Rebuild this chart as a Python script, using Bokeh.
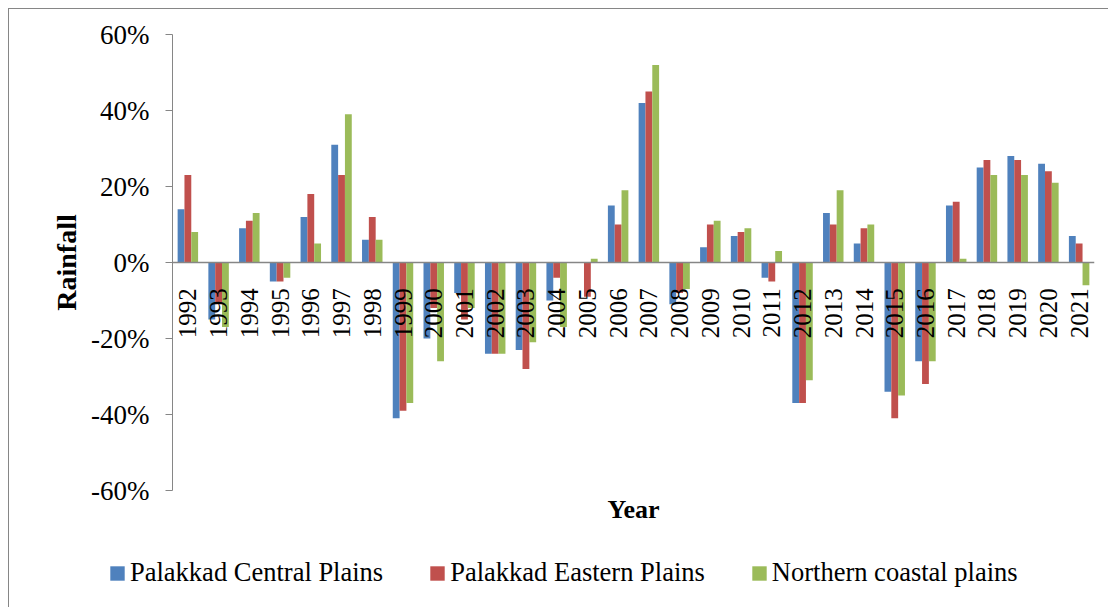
from math import pi

from bokeh.core.properties import value
from bokeh.embed import file_html
from bokeh.layouts import column
from bokeh.models import (ColumnDataSource, FixedTicker, Legend, LegendItem,
                          LinearAxis, NumeralTickFormatter, Range1d, Span)
from bokeh.plotting import figure
from bokeh.resources import INLINE
from bokeh.transform import dodge

# Rainfall departure (%) per year for three agro-ecological units
years = [str(y) for y in range(1992, 2022)]
central = [14, -15, 9, -5, 12, 31, 6, -41, -20, -8, -24, -23, -10, 0, 15,
           42, -11, 4, 7, -4, -37, 13, 5, -34, -26, 15, 25, 28, 26, 7]
eastern = [23, -11, 11, -5, 18, 23, 12, -39, -12, -15, -24, -28, -4, -9, 10,
           45, -8, 10, 8, -5, -37, 10, 9, -41, -32, 16, 27, 27, 24, 5]
northern = [8, -17, 13, -4, 5, 39, 6, -37, -26, -12, -24, -21, -17, 1, 19,
            52, -7, 11, 9, 3, -31, 19, 10, -35, -26, 1, 23, 23, 21, -6]
series_names = ["Palakkad Central Plains", "Palakkad Eastern Plains",
                "Northern coastal plains"]
colors = ["#4F81BD", "#C0504D", "#9BBB59"]
y_ticks = [-0.6, -0.4, -0.2, 0.0, 0.2, 0.4, 0.6]

FONT = "Liberation Serif"
GRAY = "#868686"

n = len(years)
bar_w = 0.222

src = ColumnDataSource(dict(
    year=years, xc=[i + 0.5 for i in range(n)],
    central=[v / 100 for v in central],
    eastern=[v / 100 for v in eastern],
    northern=[v / 100 for v in northern],
))
cols = ["central", "eastern", "northern"]

# ---- main chart -------------------------------------------------------
p = figure(width=1099, height=531, output_backend="svg", toolbar_location=None,
           x_range=Range1d(0, n), y_range=Range1d(-0.6, 0.6),
           x_axis_type=None, min_border_left=163, min_border_right=14,
           min_border_top=25, min_border_bottom=50)
p.frame_align = False
p.outline_line_color = None
p.grid.visible = False
p.background_fill_color = "white"
p.border_fill_color = "white"

renderers = []
for k, (col, c) in enumerate(zip(cols, colors)):
    r = p.vbar(x=dodge("xc", (k - 1) * bar_w), top=col, bottom=0, width=bar_w,
               source=src, fill_color=c, line_color=None)
    renderers.append(r)

p.add_layout(Span(location=0, dimension="width", line_color=GRAY, line_width=1.5))

# year labels just under the zero line, reading upwards
p.text(x="xc", y=-0.068, text="year", source=src, angle=pi / 2,
       text_align="right", text_baseline="middle",
       text_font=value(FONT), text_font_size="25px", text_color="black")

ax = p.yaxis[0]
ax.ticker = FixedTicker(ticks=y_ticks)
ax.formatter = NumeralTickFormatter(format="0%")
ax.axis_line_color = GRAY
ax.major_tick_line_color = GRAY
ax.major_tick_out = 7
ax.major_tick_in = 0
ax.minor_tick_line_color = None
ax.major_label_text_font = FONT
ax.major_label_text_font_size = "27px"
ax.major_label_text_color = "black"
ax.major_label_standoff = 16
ax.axis_label = "Rainfall"
ax.axis_label_text_font = FONT
ax.axis_label_text_font_size = "28px"
ax.axis_label_text_font_style = "bold"
ax.axis_label_text_color = "black"
ax.axis_label_standoff = 6

# bottom axis carries only the "Year" caption
xa = LinearAxis(ticker=FixedTicker(ticks=[]), axis_line_color=None,
                major_tick_line_color=None, minor_tick_line_color=None,
                major_tick_out=0, major_tick_in=0, major_label_standoff=0,
                axis_label="Year", axis_label_standoff=4,
                axis_label_text_font=FONT, axis_label_text_font_size="26px",
                axis_label_text_font_style="bold", axis_label_text_color="black")
p.add_layout(xa, "below")

# ---- legend strip -----------------------------------------------------
lg = figure(width=1099, height=67, output_backend="svg", toolbar_location=None,
            x_range=Range1d(0, 1), y_range=Range1d(0, 1),
            x_axis_type=None, y_axis_type=None, min_border=0)
lg.frame_align = False
lg.outline_line_color = None
lg.grid.visible = False
lg.border_fill_color = "white"
swatches = []
for col, c in zip(cols, colors):
    r = lg.vbar(x="xc", top=col, width=bar_w, source=src, fill_color=c,
                line_color=None, visible=False)
    swatches.append(r)
legend = Legend(items=[LegendItem(label=nm, renderers=[r])
                       for nm, r in zip(series_names, swatches)],
                orientation="horizontal", location=(99, 19),
                glyph_width=18, glyph_height=18, label_height=18,
                label_standoff=4, spacing=45,
                padding=0, margin=0, border_line_color=None,
                background_fill_alpha=0, inactive_fill_alpha=0,
                label_text_font=FONT, label_text_font_size="26.5px",
                label_text_color="black")
lg.add_layout(legend)

page = column(p, lg, spacing=0, margin=(8, 0, 0, 8),
              styles={"border-top": f"1px solid {GRAY}",
                      "border-left": f"1px solid {GRAY}"})

open("out.html", "w").write(file_html(page, INLINE))
